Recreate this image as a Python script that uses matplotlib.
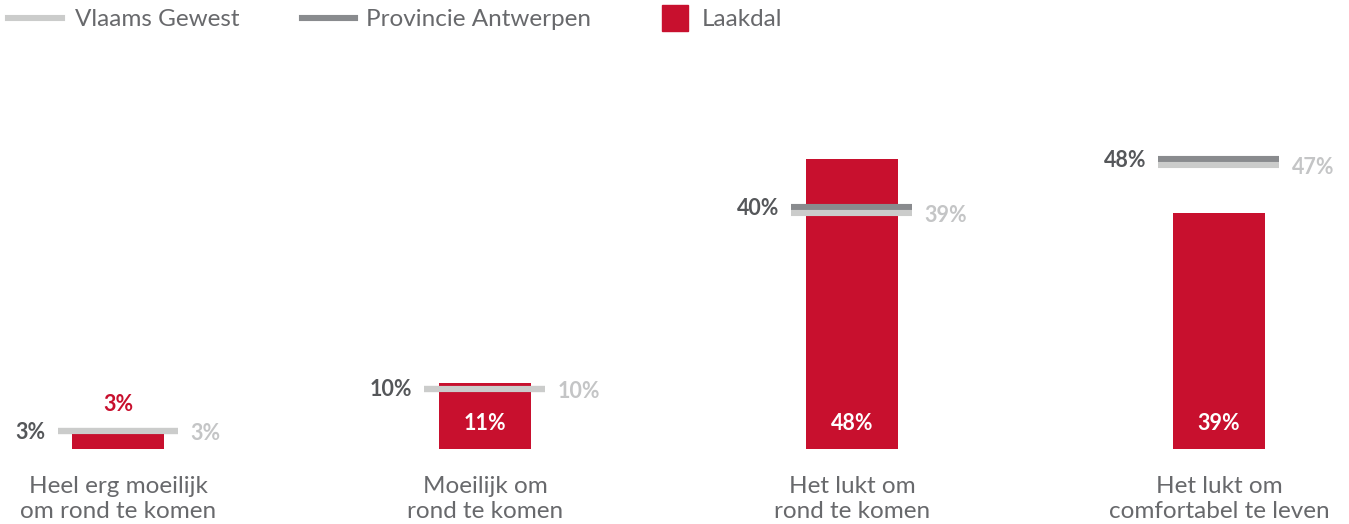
import matplotlib.pyplot as plt
from matplotlib.lines import Line2D
from matplotlib.patches import Rectangle

# Data
categories = ['Heel erg moeilijk\nom rond te komen', 'Moeilijk om\nrond te komen',
              'Het lukt om\nrond te komen', 'Het lukt om\ncomfortabel te leven']
laakdal = [3, 11, 48, 39]
provincie = [3, 10, 40, 48]
vlaams = [3, 10, 39, 47]
legend_labels = ['Vlaams Gewest', 'Provincie Antwerpen', 'Laakdal']

# Colours
RED = '#c8102e'
DARK = '#898b8e'
LIGHT = '#cbcccb'
TXT_DARK = '#55575a'
TXT_CAT = '#68696c'
TXT_LIGHT = '#c4c5c6'

plt.rcParams['font.family'] = ['Lato', 'DejaVu Sans']

W, H = 1349, 524
fig = plt.figure(figsize=(W / 100, H / 100), dpi=100)
ax = fig.add_axes([0, 0, 1, 1])

# pixel-ish scaling: group spacing 367 px, 6.04 px per percent
px_x = 367.0
px_y = 6.04
ax.set_xlim(-118 / px_x, (W - 118) / px_x)
ax.set_ylim(-(H - 449) / px_y, 449 / px_y)
ax.set_axis_off()

x = list(range(len(categories)))
bar_w = 92 / px_x
half_line = 121 / px_x / 2
gap = 12 / px_x

ax.bar(x, laakdal, width=bar_w, color=RED, zorder=1)
ax.hlines(provincie, [i - half_line for i in x], [i + half_line for i in x],
          color=DARK, lw=4.4, zorder=2)
ax.hlines(vlaams, [i - half_line for i in x], [i + half_line for i in x],
          color=LIGHT, lw=4.4, zorder=3)

for i in x:
    # provincie label left, vlaams label right
    ax.text(i - half_line - gap, provincie[i] - 0.2, f'{provincie[i]}%', ha='right', va='center',
            fontsize=15.5, fontweight='bold', color=TXT_DARK)
    ax.text(i + half_line + gap, vlaams[i] - 0.4, f'{vlaams[i]}%', ha='left', va='center',
            fontsize=15.5, fontweight='bold', color=TXT_LIGHT)
    if laakdal[i] >= 8:
        ax.text(i, 4.3, f'{laakdal[i]}%', ha='center', va='center',
                fontsize=15.5, fontweight='bold', color='white', zorder=4)
    else:
        ax.text(i, laakdal[i] + 4.4, f'{laakdal[i]}%', ha='center', va='center',
                fontsize=15.5, fontweight='bold', color=RED)
    ax.text(i, -8.3, categories[i], ha='center', va='center', fontsize=17.5,
            color=TXT_CAT, linespacing=1.27)

# Legend, drawn in axes fraction from pixel positions
def fx(px):
    return px / W

def fy(py):
    return 1 - py / H

ly = 18
ax.add_line(Line2D([fx(8), fx(62)], [fy(ly), fy(ly)], color=LIGHT, lw=4.4,
                   transform=ax.transAxes))
ax.add_line(Line2D([fx(302), fx(355)], [fy(ly), fy(ly)], color=DARK, lw=4.4,
                   transform=ax.transAxes))
ax.add_patch(Rectangle((fx(662), fy(31)), fx(26), 26 / H, color=RED,
                       transform=ax.transAxes))
for lx, lab in zip([75, 366, 702], legend_labels):
    ax.text(fx(lx), fy(ly + 1), lab, ha='left', va='center', fontsize=17.5,
            color=TXT_CAT, transform=ax.transAxes)

fig.savefig('out.png', dpi=100, facecolor='white')
